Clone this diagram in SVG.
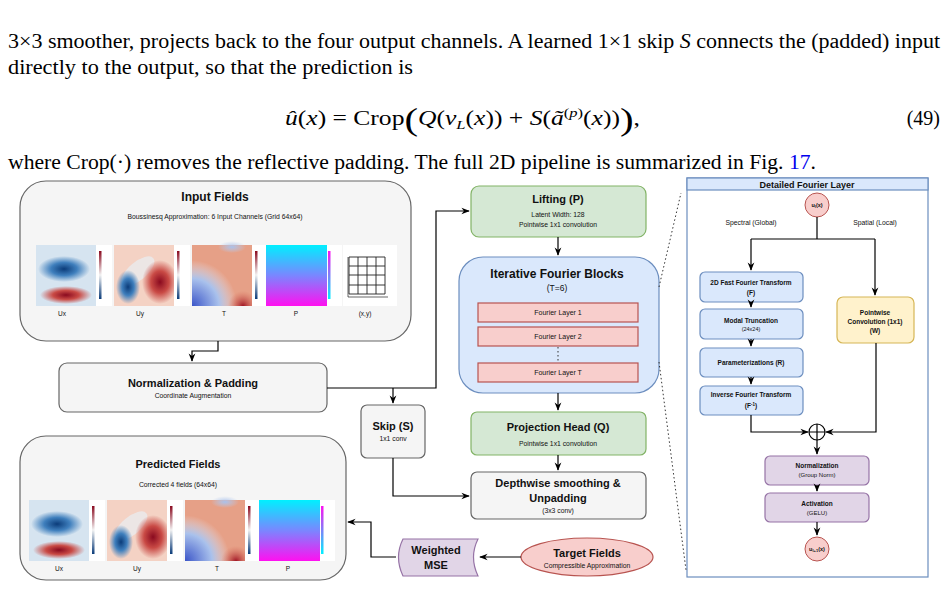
<svg xmlns="http://www.w3.org/2000/svg" width="948" height="609" viewBox="0 0 948 609">
<style>
.t{font-family:"Liberation Serif",serif;font-size:20px;fill:#000}
.s{font-family:"Liberation Sans",Arial,sans-serif;fill:#111}
.b{font-weight:bold}
.gray{fill:#f5f5f5;stroke:#666;stroke-width:1.2}
.green{fill:#d5e8d4;stroke:#82b366;stroke-width:1.2}
.blue{fill:#dae8fc;stroke:#6c8ebf;stroke-width:1.2}
.red{fill:#f8cecc;stroke:#b85450;stroke-width:1.2}
.yel{fill:#fff2cc;stroke:#d6b656;stroke-width:1.2}
.pur{fill:#e1d5e7;stroke:#9673a6;stroke-width:1.2}
.c{fill:none;stroke:#000;stroke-width:1.2}
.dot{fill:none;stroke:#333;stroke-width:1;stroke-dasharray:1.5 2.5}
</style>
<defs>
<marker id="a" viewBox="0 0 10 10" refX="9" refY="5" markerWidth="7" markerHeight="7" orient="auto"><path d="M0,1 L10,5 L0,9 L3,5 Z" fill="#000"/></marker>
<radialGradient id="bl"><stop offset="0" stop-color="#0b3c7a"/><stop offset="0.5" stop-color="#3f7fbd"/><stop offset="1" stop-color="#3f7fbd" stop-opacity="0"/></radialGradient>
<radialGradient id="rd"><stop offset="0" stop-color="#8a0a1f"/><stop offset="0.5" stop-color="#c94a45"/><stop offset="1" stop-color="#c94a45" stop-opacity="0"/></radialGradient>
<radialGradient id="lb"><stop offset="0" stop-color="#a9c1ec"/><stop offset="1" stop-color="#bcd0f0" stop-opacity="0"/></radialGradient>
<radialGradient id="tb" cx="0" cy="1" r="0.75"><stop offset="0" stop-color="#3b55c8"/><stop offset="0.6" stop-color="#a9c1ec"/><stop offset="1" stop-color="#e8e8f0" stop-opacity="0"/></radialGradient>
<radialGradient id="tr" cx="0.85" cy="1" r="0.25"><stop offset="0" stop-color="#a01525"/><stop offset="1" stop-color="#d86a58" stop-opacity="0"/></radialGradient>
<linearGradient id="pg" x1="0" y1="0" x2="0" y2="1"><stop offset="0" stop-color="#00f0ff"/><stop offset="0.5" stop-color="#7a86ff"/><stop offset="1" stop-color="#ff10f0"/></linearGradient>
<linearGradient id="cb" x1="0" y1="0" x2="0" y2="1"><stop offset="0" stop-color="#8a0a1f"/><stop offset="0.5" stop-color="#f2f2f2"/><stop offset="1" stop-color="#0b3c7a"/></linearGradient>
<linearGradient id="pcb" x1="0" y1="0" x2="0" y2="1"><stop offset="0" stop-color="#ff10f0"/><stop offset="1" stop-color="#00f0ff"/></linearGradient>
<g id="ux"><rect width="60" height="61" fill="#d6e4f0"/><ellipse cx="28" cy="24" rx="26" ry="13" fill="url(#bl)"/><ellipse cx="30" cy="50" rx="26" ry="9" fill="url(#rd)"/><rect x="60" width="16" height="61" fill="#fff"/><rect x="63" y="6" width="2.5" height="48" fill="url(#cb)"/></g>
<g id="uy"><rect width="60" height="61" fill="#f4d2c4"/><ellipse cx="24" cy="26" rx="20" ry="9" transform="rotate(-40 24 26)" fill="#e8eef4" opacity="0.7"/><ellipse cx="14" cy="42" rx="12" ry="17" fill="url(#bl)"/><ellipse cx="46" cy="37" rx="18" ry="22" fill="url(#rd)"/><rect x="60" width="16" height="61" fill="#fff"/><rect x="63" y="6" width="2.5" height="48" fill="url(#cb)"/></g>
<g id="tt"><rect width="60" height="61" fill="#e6a087"/><rect width="60" height="61" fill="url(#tb)"/><rect width="60" height="61" fill="url(#tr)"/><ellipse cx="40" cy="2" rx="14" ry="6" fill="url(#lb)"/><rect x="60" width="16" height="61" fill="#fff"/><rect x="63" y="6" width="2.5" height="48" fill="url(#cb)"/></g>
<g id="pp"><rect width="61" height="61" fill="url(#pg)"/><rect x="61" width="15" height="61" fill="#fff"/><rect x="62" y="6" width="2.5" height="48" fill="url(#pcb)"/></g>
</defs>
<rect width="948" height="609" fill="#fff"/>

<g id="text">
<text class="t" x="8" y="48" textLength="932" lengthAdjust="spacingAndGlyphs">3×3 smoother, projects back to the four output channels. A learned 1×1 skip <tspan font-style="italic">S</tspan> connects the (padded) input</text>
<text class="t" x="8" y="74" textLength="405" lengthAdjust="spacingAndGlyphs">directly to the output, so that the prediction is</text>
<text class="t" x="285" y="125" textLength="355" lengthAdjust="spacingAndGlyphs"><tspan font-style="italic">û</tspan>(<tspan font-style="italic">x</tspan>)  =  Crop<tspan font-size="32" dy="5">(</tspan><tspan dy="-5" font-style="italic">Q</tspan>(<tspan font-style="italic">v</tspan><tspan font-size="13" dy="4" font-style="italic">L</tspan><tspan dy="-4">(</tspan><tspan font-style="italic">x</tspan>))  +  <tspan font-style="italic">S</tspan>(<tspan font-style="italic">ã</tspan><tspan font-size="13" dy="-8">(<tspan font-style="italic">p</tspan>)</tspan><tspan dy="8">(</tspan><tspan font-style="italic">x</tspan>))<tspan font-size="32" dy="5">)</tspan><tspan dy="-5">,</tspan></text>
<text class="t" x="940" y="125" text-anchor="end">(49)</text>
<text class="t" x="8" y="169" textLength="808" lengthAdjust="spacingAndGlyphs">where Crop(·) removes the reflective padding. The full 2D pipeline is summarized in Fig. <tspan fill="#0000ee">17</tspan>.</text>
</g>

<rect x="687" y="178" width="241" height="399" fill="#fff" stroke="#6c8ebf" stroke-width="1.2"/>

<g id="input">
<rect class="gray" x="20" y="181" width="391" height="160" rx="26"/>
<text class="s b" x="215" y="201" font-size="12" text-anchor="middle">Input Fields</text>
<text class="s" x="215" y="219" font-size="6.8" text-anchor="middle">Boussinesq Approximation: 6 Input Channels (Grid 64x64)</text>
<use href="#ux" x="36" y="245"/><use href="#uy" x="114" y="245"/><use href="#tt" x="192" y="245"/><use href="#pp" x="266" y="245"/>
<rect x="343" y="245" width="54" height="61" fill="#fff"/>
<path d="M348,257 V297 H388" fill="none" stroke="#000" stroke-width="0.6"/>
<path d="M349,257 h36 v37 h-36 z M358,257 v37 M367,257 v37 M376,257 v37 M349,266 h36 M349,275 h36 M349,285 h36" fill="none" stroke="#222" stroke-width="0.9"/>
<g class="s" font-size="6.5" text-anchor="middle"><text x="62" y="316">Ux</text><text x="140" y="316">Uy</text><text x="224" y="316">T</text><text x="296" y="316">P</text><text x="365" y="316">(x,y)</text></g>
</g>

<g id="norm">
<rect class="gray" x="59" y="363" width="268" height="49" rx="8"/>
<text class="s b" x="193" y="387" font-size="11" text-anchor="middle">Normalization &amp; Padding</text>
<text class="s" x="193" y="398" font-size="6.8" text-anchor="middle">Coordinate Augmentation</text>
</g>

<g id="lifting">
<rect class="green" x="471" y="186" width="175" height="51" rx="8"/>
<text class="s b" x="558" y="203" font-size="11" text-anchor="middle">Lifting (P)</text>
<text class="s" x="558" y="217" font-size="6.8" text-anchor="middle">Latent Width: 128</text>
<text class="s" x="558" y="227" font-size="6.8" text-anchor="middle">Pointwise 1x1 convolution</text>
</g>

<g id="fourier">
<rect class="blue" x="459" y="257" width="200" height="136" rx="24"/>
<text class="s b" x="557" y="278" font-size="12" text-anchor="middle">Iterative Fourier Blocks</text>
<text class="s" x="557" y="291" font-size="8.5" text-anchor="middle">(T=6)</text>
<rect class="red" x="478" y="303" width="160" height="19"/><text class="s" x="558" y="315" font-size="7" text-anchor="middle">Fourier Layer 1</text>
<rect class="red" x="478" y="327" width="160" height="19"/><text class="s" x="558" y="339" font-size="7" text-anchor="middle">Fourier Layer 2</text>
<rect class="red" x="478" y="363" width="160" height="19"/><text class="s" x="558" y="375" font-size="7" text-anchor="middle">Fourier Layer T</text>
</g>

<g id="skip">
<rect class="gray" x="361" y="405" width="64" height="53" rx="6"/>
<text class="s b" x="393" y="430" font-size="11" text-anchor="middle" fill="#333">Skip (S)</text>
<text class="s" x="393" y="441" font-size="6.8" text-anchor="middle">1x1 conv</text>
</g>

<g id="projection">
<rect class="green" x="471" y="412" width="175" height="43" rx="6"/>
<text class="s b" x="558" y="431" font-size="11" text-anchor="middle">Projection Head (Q)</text>
<text class="s" x="558" y="446" font-size="6.8" text-anchor="middle">Pointwise 1x1 convolution</text>
</g>

<g id="depthwise">
<rect class="gray" x="471" y="472" width="175" height="47" rx="6"/>
<text class="s b" x="558" y="487" font-size="11" text-anchor="middle">Depthwise smoothing &amp;</text>
<text class="s b" x="558" y="502" font-size="11" text-anchor="middle">Unpadding</text>
<text class="s" x="558" y="513" font-size="6.8" text-anchor="middle">(3x3 conv)</text>
</g>

<g id="predicted">
<rect class="gray" x="20" y="436" width="326" height="144" rx="26"/>
<text class="s b" x="178" y="468" font-size="11" text-anchor="middle">Predicted Fields</text>
<text class="s" x="178" y="487" font-size="6.8" text-anchor="middle">Corrected 4 fields (64x64)</text>
<use href="#ux" x="29" y="500"/><use href="#uy" x="107" y="500"/><use href="#tt" x="185" y="500"/><use href="#pp" x="259" y="500"/>
<g class="s" font-size="6.5" text-anchor="middle"><text x="59" y="571">Ux</text><text x="137" y="571">Uy</text><text x="217" y="571">T</text><text x="288" y="571">P</text></g>
</g>

<g id="mse">
<path class="pur" d="M403,539 H478 Q469,557 478,576 H403 Q394,557 403,539 Z"/>
<text class="s b" x="436" y="554" font-size="11" text-anchor="middle">Weighted</text>
<text class="s b" x="436" y="569" font-size="11" text-anchor="middle">MSE</text>
</g>

<g id="target">
<ellipse class="red" cx="587" cy="557" rx="66" ry="19"/>
<text class="s b" x="587" y="557" font-size="11" text-anchor="middle">Target Fields</text>
<text class="s" x="587" y="568" font-size="6.8" text-anchor="middle">Compressible Approximation</text>
</g>

<g id="detail">
<rect class="blue" x="687" y="178" width="241" height="12"/>
<text class="s b" x="807" y="188" font-size="9" text-anchor="middle">Detailed Fourier Layer</text>
<circle cx="817" cy="205" r="12" fill="#f8cecc" stroke="#b85450"/>
<text class="s b" x="817" y="207" font-size="5.5" text-anchor="middle">u<tspan font-size="4" dy="1">l</tspan><tspan dy="-1">(x)</tspan></text>
<text class="s" x="751" y="225" font-size="6.8" text-anchor="middle" fill="#333">Spectral (Global)</text>
<text class="s" x="875" y="225" font-size="6.8" text-anchor="middle" fill="#333">Spatial (Local)</text>
<rect class="blue" x="700" y="272" width="103" height="30" rx="5"/>
<text class="s b" x="751" y="285" font-size="6.5" text-anchor="middle">2D Fast Fourier Transform</text>
<text class="s b" x="751" y="295" font-size="6.5" text-anchor="middle">(F)</text>
<rect class="blue" x="700" y="309" width="103" height="30" rx="5"/>
<text class="s b" x="751" y="323" font-size="6.5" text-anchor="middle">Modal Truncation</text>
<text class="s" x="751" y="331" font-size="5.5" text-anchor="middle">(24x24)</text>
<rect class="blue" x="700" y="348" width="103" height="29" rx="5"/>
<text class="s b" x="751" y="365" font-size="6.5" text-anchor="middle">Parameterizations (R)</text>
<rect class="blue" x="700" y="386" width="103" height="29" rx="5"/>
<text class="s b" x="751" y="397" font-size="6.5" text-anchor="middle">Inverse Fourier Transform</text>
<text class="s b" x="751" y="408" font-size="6.5" text-anchor="middle">(F<tspan font-size="4.5" dy="-2.5">-1</tspan><tspan dy="2.5">)</tspan></text>
<rect class="yel" x="837" y="297" width="77" height="46" rx="6"/>
<text class="s b" x="875" y="315" font-size="6.5" text-anchor="middle">Pointwise</text>
<text class="s b" x="875" y="324" font-size="6.5" text-anchor="middle">Convolution (1x1)</text>
<text class="s b" x="875" y="333" font-size="6.5" text-anchor="middle">(W)</text>
<circle cx="817" cy="432" r="8" fill="#fff" stroke="#000" stroke-width="1.2"/>
<path d="M809,432 H825 M817,424 V440" stroke="#000" stroke-width="1.2"/>
<rect class="pur" x="765" y="456" width="104" height="29" rx="5"/>
<text class="s b" x="817" y="468" font-size="6.5" text-anchor="middle">Normalization</text>
<text class="s" x="817" y="477" font-size="6" text-anchor="middle" fill="#333">(Group Norm)</text>
<rect class="pur" x="765" y="493" width="104" height="29" rx="5"/>
<text class="s b" x="817" y="506" font-size="6.5" text-anchor="middle">Activation</text>
<text class="s" x="817" y="515" font-size="6" text-anchor="middle" fill="#333">(GELU)</text>
<circle cx="817" cy="549" r="12" fill="#f8cecc" stroke="#b85450"/>
<text class="s b" x="817" y="551" font-size="5.5" text-anchor="middle">u<tspan font-size="4" dy="1">l+1</tspan><tspan dy="-1">(x)</tspan></text>
</g>

<g id="connectors">
<path class="c" d="M218,341 V351 H192 V361" marker-end="url(#a)"/>
<path class="c" d="M327,388 H436 V211 H469" marker-end="url(#a)"/>
<path class="c" d="M393,388 V403" marker-end="url(#a)"/>
<path class="c" d="M558,237 V255" marker-end="url(#a)"/>
<path class="c" d="M558,393 V410" marker-end="url(#a)"/>
<path class="c" d="M558,455 V470" marker-end="url(#a)"/>
<path class="c" d="M393,458 V496 H469" marker-end="url(#a)"/>
<path class="c" d="M521,557 H480" marker-end="url(#a)"/>
<path class="c" d="M396,557 H371 V522 H348" marker-end="url(#a)"/>
<path class="dot" d="M659,287 L681,193"/>
<path class="dot" d="M659,362 L686,570"/>
<path class="dot" d="M558,347 V362"/>
<path class="c" d="M817,217 V239 M751,239 H875"/>
<path class="c" d="M751,239 V270" marker-end="url(#a)"/>
<path class="c" d="M875,239 V295" marker-end="url(#a)"/>
<path class="c" d="M751,302 V307" marker-end="url(#a)"/>
<path class="c" d="M751,339 V346" marker-end="url(#a)"/>
<path class="c" d="M751,377 V384" marker-end="url(#a)"/>
<path class="c" d="M751,415 V432 H808" marker-end="url(#a)"/>
<path class="c" d="M876,343 V432 H826" marker-end="url(#a)"/>
<path class="c" d="M817,440 V454" marker-end="url(#a)"/>
<path class="c" d="M817,485 V491" marker-end="url(#a)"/>
<path class="c" d="M817,522 V535" marker-end="url(#a)"/>
</g>
</svg>
